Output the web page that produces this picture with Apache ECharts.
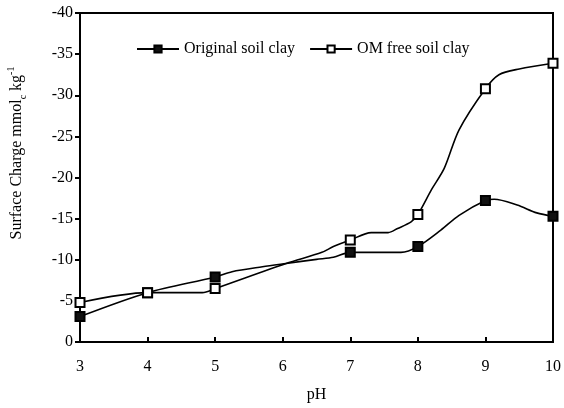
<!DOCTYPE html>
<html>
<head>
<meta charset="utf-8">
<script src="https://cdn.jsdelivr.net/npm/echarts@6/dist/echarts.min.js"></script>
<style>html,body{margin:0;padding:0;background:#fff}#c{width:564px;height:408px}</style>
</head>
<body>
<div id="c"></div>
<script>
// pH values where measurements were taken (marked points)
const measuredPH = [3, 4, 5, 7, 8, 9, 10];

// Original soil clay curve
const origPH  = [3, 4, 5, 5.25, 5.7, 6.05, 6.5, 6.75, 7, 7.75, 8, 8.34, 8.61, 9, 9.13, 9.47, 9.76, 10];
const origVal = [-3.1, -6.0, -7.9, -8.55, -9.15, -9.55, -10.05, -10.3, -10.9, -10.9, -11.6, -13.6, -15.4, -17.2, -17.35, -16.65, -15.7, -15.3];

// OM free soil clay curve
const omPH  = [3, 4, 4.81, 5, 6.05, 6.58, 6.75, 7, 7.31, 7.56, 7.7, 7.9, 8, 8.2, 8.39, 8.61, 9, 9.2, 9.5, 10];
const omVal = [-4.8, -6.0, -6.0, -6.5, -9.55, -10.9, -11.6, -12.4, -13.3, -13.3, -13.8, -14.6, -15.5, -18.5, -21.1, -25.8, -30.8, -32.5, -33.2, -33.9];

const xTicks = [3, 4, 5, 6, 7, 8, 9, 10];
const yTicks = [0, -5, -10, -15, -20, -25, -30, -35, -40];

const seriesNames = ['Original soil clay', 'OM free soil clay'];

function build(ph, val) {
  return ph.map((p, i) => {
    const item = { value: [p, val[i]] };
    if (!measuredPH.includes(p)) item.symbol = 'none';
    return item;
  });
}

const FONT = 'Liberation Serif';
const chart = echarts.init(document.getElementById('c'));
chart.setOption({
  animation: false,
  backgroundColor: '#fff',
  textStyle: { fontFamily: FONT, color: '#000' },
  grid: { left: 80, right: 8, top: 13, bottom: 66, show: true, borderColor: '#000', borderWidth: 2 },
  legend: {
    left: 131, top: 36,
    itemWidth: 42, itemHeight: 9, itemGap: 14,
    textStyle: { fontFamily: FONT, fontSize: 16, color: '#000' },
    data: seriesNames
  },
  xAxis: {
    type: 'value', min: xTicks[0], max: xTicks[xTicks.length - 1], interval: 1,
    name: 'pH', nameLocation: 'middle', nameGap: 45,
    nameTextStyle: { fontFamily: FONT, fontSize: 16, color: '#000' },
    axisLine: { lineStyle: { color: '#000', width: 2 } },
    axisTick: { inside: true, length: 5, lineStyle: { color: '#000', width: 2 } },
    axisLabel: { fontFamily: FONT, fontSize: 16, color: '#000', margin: 17 },
    splitLine: { show: false }
  },
  yAxis: {
    type: 'value', min: yTicks[yTicks.length - 1], max: yTicks[0], interval: 5, inverse: true,
    axisLine: { lineStyle: { color: '#000', width: 2 } },
    axisTick: { inside: false, length: 5, lineStyle: { color: '#000', width: 2 } },
    axisLabel: { fontFamily: FONT, fontSize: 16, color: '#000', margin: 7 },
    splitLine: { show: false }
  },
  graphic: [{
    type: 'text',
    x: 17, y: 153,
    rotation: Math.PI / 2,
    style: {
      text: 'Surface Charge mmol{sub|c} kg{sup|-1}',
      fontFamily: FONT, fontSize: 16, fill: '#000',
      align: 'center', verticalAlign: 'middle',
      lineHeight: 22,
      rich: {
        sub: { fontFamily: FONT, fontSize: 10, fill: '#000', verticalAlign: 'bottom', lineHeight: 22 },
        sup: { fontFamily: FONT, fontSize: 10, fill: '#000', verticalAlign: 'top', lineHeight: 22 }
      }
    }
  }],
  series: [
    {
      name: seriesNames[0], type: 'line',
      data: build(origPH, origVal),
      smooth: 0.3,
      symbol: 'rect', symbolSize: 9, showAllSymbol: true,
      lineStyle: { color: '#000', width: 1.6 },
      itemStyle: { color: '#111', borderColor: '#000', borderWidth: 2 },
      z: 3
    },
    {
      name: seriesNames[1], type: 'line',
      data: build(omPH, omVal),
      smooth: 0.3,
      symbol: 'rect', symbolSize: 9, showAllSymbol: true,
      lineStyle: { color: '#000', width: 1.6 },
      itemStyle: { color: '#fff', borderColor: '#000', borderWidth: 2 },
      z: 4
    }
  ]
});
</script>
</body>
</html>
